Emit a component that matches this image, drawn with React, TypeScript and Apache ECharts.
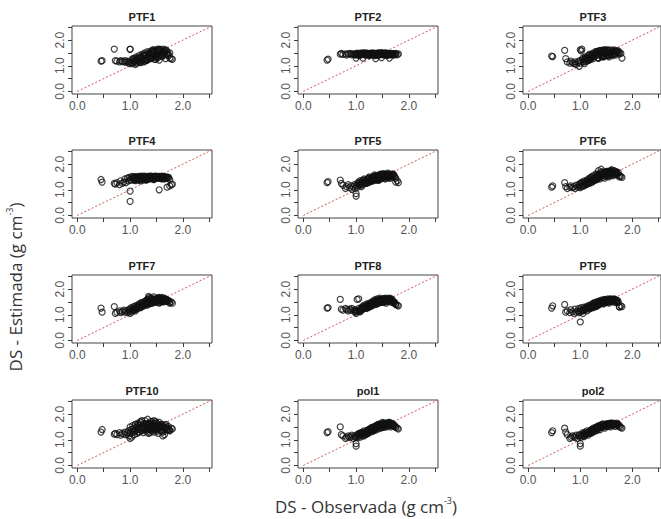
import React, { useEffect, useRef } from "react";
import * as echarts from "echarts";

const observed = [
  0.45, 0.47, 0.70, 0.72, 0.75, 0.80, 0.82, 0.85,
  0.88, 0.90, 0.92, 0.95, 0.97, 0.98, 1.00, 1.00,
  1.00, 1.02, 1.03, 1.05, 1.05, 1.07, 1.08, 1.10,
  1.10, 1.12, 1.13, 1.15, 1.15, 1.17, 1.18, 1.20,
  1.20, 1.22, 1.23, 1.25, 1.25, 1.27, 1.28, 1.30,
  1.30, 1.32, 1.33, 1.35, 1.35, 1.37, 1.38, 1.40,
  1.40, 1.42, 1.43, 1.45, 1.45, 1.47, 1.48, 1.50,
  1.50, 1.52, 1.53, 1.55, 1.55, 1.57, 1.58, 1.60,
  1.60, 1.62, 1.63, 1.65, 1.65, 1.67, 1.68, 1.70,
  1.30, 1.35, 1.40, 1.45, 1.50, 1.55, 1.60, 1.25,
  1.20, 1.38, 1.42, 1.48, 1.52, 1.58, 1.62, 1.33,
  1.70, 1.72, 1.73, 1.75, 1.75, 1.78, 1.80, 1.45,
  1.05, 1.10, 1.15, 1.20, 1.25, 1.30, 1.35, 1.40,
  1.45, 1.50, 1.55, 1.60, 1.65, 1.70, 1.12, 1.22,
  1.32, 1.42, 1.52, 1.62, 1.08, 1.18, 1.28, 1.38,
  1.48, 1.58, 1.68, 1.36, 1.46, 1.56, 1.26, 1.16,
];

const ptf1 = [
  1.18, 1.20, 1.65, 1.20, 1.18, 1.15, 1.20, 1.17,
  1.15, 1.20, 1.14, 1.18, 1.10, 1.16, 1.65, 1.08,
  1.64, 1.12, 1.20, 1.08, 1.25, 1.15, 1.30, 1.12,
  1.22, 1.35, 1.10, 1.28, 1.18, 1.40, 1.15, 1.25,
  1.32, 1.20, 1.45, 1.28, 1.38, 1.18, 1.50, 1.30,
  1.42, 1.22, 1.55, 1.35, 1.48, 1.28, 1.40, 1.58,
  1.30, 1.50, 1.62, 1.38, 1.55, 1.25, 1.45, 1.60,
  1.35, 1.65, 1.50, 1.22, 1.58, 1.42, 1.62, 1.48,
  1.55, 1.38, 1.65, 1.50, 1.60, 1.28, 1.62, 1.45,
  1.25, 1.45, 1.35, 1.50, 1.45, 1.55, 1.52, 1.38,
  1.15, 1.32, 1.48, 1.40, 1.30, 1.45, 1.40, 1.25,
  1.55, 1.48, 1.40, 1.30, 1.50, 1.28, 1.25, 1.62,
  1.28, 1.05, 1.32, 1.12, 1.42, 1.20, 1.50, 1.28,
  1.58, 1.32, 1.62, 1.40, 1.55, 1.42, 1.20, 1.35,
  1.22, 1.55, 1.42, 1.52, 1.18, 1.30, 1.40, 1.48,
  1.25, 1.38, 1.58, 1.45, 1.35, 1.65, 1.15, 1.25,
];
const ptf2 = [
  1.22, 1.26, 1.45, 1.48, 1.44, 1.46, 1.42, 1.47,
  1.45, 1.48, 1.43, 1.46, 1.44, 1.42, 1.47, 1.30,
  1.45, 1.49, 1.42, 1.46, 1.40, 1.48, 1.44, 1.50,
  1.43, 1.47, 1.30, 1.45, 1.49, 1.41, 1.46, 1.44,
  1.50, 1.42, 1.47, 1.44, 1.40, 1.48, 1.45, 1.43,
  1.47, 1.44, 1.50, 1.41, 1.46, 1.28, 1.48, 1.43,
  1.45, 1.49, 1.42, 1.47, 1.44, 1.50, 1.32, 1.46,
  1.43, 1.48, 1.45, 1.41, 1.49, 1.44, 1.47, 1.42,
  1.46, 1.43, 1.30, 1.48, 1.45, 1.42, 1.47, 1.44,
  1.48, 1.40, 1.46, 1.43, 1.50, 1.45, 1.41, 1.47,
  1.44, 1.47, 1.42, 1.49, 1.45, 1.43, 1.48, 1.46,
  1.45, 1.42, 1.47, 1.44, 1.48, 1.43, 1.46, 1.45,
  1.47, 1.44, 1.50, 1.46, 1.43, 1.48, 1.45, 1.41,
  1.49, 1.46, 1.42, 1.48, 1.45, 1.43, 1.47, 1.44,
  1.45, 1.50, 1.44, 1.47, 1.42, 1.46, 1.49, 1.43,
  1.46, 1.48, 1.44, 1.47, 1.45, 1.50, 1.43, 1.48,
];
const ptf3 = [
  1.38, 1.36, 1.60, 1.28, 1.15, 1.10, 1.18, 1.12,
  1.08, 1.15, 1.05, 1.12, 1.18, 0.98, 1.10, 1.62,
  1.20, 1.58, 1.65, 1.15, 1.30, 1.22, 1.08, 1.28,
  1.35, 1.18, 1.25, 1.40, 1.30, 1.22, 1.45, 1.32,
  1.25, 1.42, 1.35, 1.50, 1.28, 1.45, 1.38, 1.55,
  1.40, 1.52, 1.32, 1.48, 1.58, 1.42, 1.55, 1.38,
  1.60, 1.45, 1.52, 1.35, 1.58, 1.48, 1.62, 1.42,
  1.55, 1.40, 1.60, 1.48, 1.52, 1.62, 1.45, 1.58,
  1.50, 1.60, 1.45, 1.55, 1.62, 1.48, 1.58, 1.52,
  1.45, 1.30, 1.50, 1.40, 1.55, 1.35, 1.48, 1.38,
  1.32, 1.55, 1.38, 1.60, 1.42, 1.50, 1.40, 1.45,
  1.55, 1.50, 1.58, 1.52, 1.45, 1.48, 1.30, 1.62,
  1.25, 1.32, 1.20, 1.42, 1.35, 1.55, 1.30, 1.48,
  1.38, 1.55, 1.42, 1.52, 1.45, 1.58, 1.28, 1.40,
  1.50, 1.35, 1.62, 1.45, 1.15, 1.35, 1.45, 1.60,
  1.55, 1.48, 1.42, 1.52, 1.60, 1.42, 1.38, 1.25,
];
const ptf4 = [
  1.40, 1.30, 1.25, 1.22, 1.28, 1.20, 1.35, 1.25,
  1.30, 1.42, 1.28, 1.45, 1.35, 1.48, 0.55, 0.95,
  1.40, 1.50, 1.38, 1.45, 1.52, 1.42, 1.48, 1.36,
  1.50, 1.44, 1.40, 1.52, 1.46, 1.38, 1.50, 1.45,
  1.42, 1.52, 1.47, 1.40, 1.50, 1.44, 1.53, 1.46,
  1.48, 1.40, 1.52, 1.45, 1.50, 1.42, 1.54, 1.47,
  1.44, 1.50, 1.46, 1.52, 1.40, 1.48, 1.53, 1.45,
  1.50, 1.46, 1.52, 1.00, 1.44, 1.50, 1.47, 1.53,
  1.48, 1.52, 1.45, 1.50, 1.42, 1.49, 1.46, 1.10,
  1.38, 1.46, 1.50, 1.44, 1.48, 1.52, 1.45, 1.40,
  1.35, 1.48, 1.52, 1.46, 1.50, 1.44, 1.50, 1.42,
  1.50, 1.45, 1.48, 1.15, 1.40, 1.20, 1.22, 1.48,
  1.45, 1.50, 1.42, 1.48, 1.52, 1.40, 1.46, 1.50,
  1.44, 1.52, 1.48, 1.42, 1.50, 1.46, 1.40, 1.53,
  1.47, 1.42, 1.50, 1.45, 1.38, 1.52, 1.44, 1.48,
  1.52, 1.46, 1.44, 1.50, 1.42, 1.48, 1.45, 1.40,
];
const ptf5 = [
  1.28, 1.32, 1.38, 1.25, 1.18, 1.05, 1.12, 1.20,
  1.08, 1.15, 1.02, 1.12, 1.20, 1.05, 0.75, 0.85,
  1.15, 1.25, 1.10, 1.30, 1.18, 1.35, 1.22, 1.12,
  1.28, 1.38, 1.20, 1.32, 1.42, 1.25, 1.35, 1.30,
  1.40, 1.28, 1.45, 1.35, 1.50, 1.32, 1.42, 1.38,
  1.48, 1.35, 1.52, 1.40, 1.58, 1.45, 1.38, 1.50,
  1.42, 1.55, 1.48, 1.60, 1.40, 1.52, 1.62, 1.45,
  1.58, 1.48, 1.62, 1.52, 1.42, 1.60, 1.55, 1.65,
  1.50, 1.62, 1.55, 1.45, 1.60, 1.52, 1.58, 1.62,
  1.35, 1.40, 1.55, 1.45, 1.50, 1.58, 1.48, 1.30,
  1.25, 1.45, 1.38, 1.52, 1.62, 1.50, 1.45, 1.40,
  1.58, 1.55, 1.50, 1.30, 1.45, 1.35, 1.28, 1.55,
  1.25, 1.18, 1.38, 1.28, 1.45, 1.38, 1.52, 1.40,
  1.58, 1.45, 1.52, 1.60, 1.50, 1.55, 1.30, 1.42,
  1.48, 1.38, 1.60, 1.52, 1.22, 1.30, 1.42, 1.55,
  1.45, 1.52, 1.60, 1.48, 1.55, 1.45, 1.38, 1.28,
];
const ptf6 = [
  1.10, 1.15, 1.28, 1.12, 1.05, 1.10, 1.15, 1.08,
  1.12, 1.05, 1.18, 1.10, 1.20, 1.15, 1.08, 1.25,
  1.22, 1.12, 1.30, 1.18, 1.28, 1.15, 1.35, 1.25,
  1.32, 1.20, 1.38, 1.28, 1.42, 1.30, 1.25, 1.45,
  1.35, 1.50, 1.30, 1.42, 1.55, 1.38, 1.48, 1.40,
  1.52, 1.40, 1.60, 1.45, 1.75, 1.50, 1.42, 1.80,
  1.55, 1.62, 1.48, 1.70, 1.58, 1.45, 1.65, 1.52,
  1.60, 1.72, 1.55, 1.68, 1.50, 1.65, 1.75, 1.58,
  1.62, 1.70, 1.55, 1.75, 1.65, 1.60, 1.72, 1.58,
  1.40, 1.48, 1.55, 1.62, 1.58, 1.70, 1.65, 1.35,
  1.30, 1.52, 1.60, 1.65, 1.68, 1.62, 1.70, 1.45,
  1.65, 1.60, 1.68, 1.55, 1.50, 1.52, 1.48, 1.62,
  1.15, 1.28, 1.35, 1.48, 1.35, 1.62, 1.55, 1.70,
  1.58, 1.72, 1.60, 1.78, 1.62, 1.68, 1.22, 1.40,
  1.55, 1.68, 1.70, 1.75, 1.18, 1.35, 1.48, 1.58,
  1.62, 1.72, 1.65, 1.60, 1.65, 1.55, 1.42, 1.30,
];
const ptf7 = [
  1.26, 1.10, 1.32, 1.05, 1.10, 1.15, 1.08, 1.12,
  1.18, 1.10, 1.15, 1.08, 1.20, 1.12, 1.05, 1.22,
  1.15, 1.28, 1.10, 1.25, 1.18, 1.32, 1.20, 1.28,
  1.35, 1.22, 1.30, 1.40, 1.25, 1.38, 1.32, 1.45,
  1.30, 1.48, 1.38, 1.42, 1.35, 1.50, 1.40, 1.55,
  1.45, 1.38, 1.60, 1.48, 1.72, 1.42, 1.55, 1.50,
  1.65, 1.45, 1.58, 1.70, 1.50, 1.62, 1.48, 1.55,
  1.60, 1.52, 1.65, 1.45, 1.58, 1.62, 1.50, 1.68,
  1.55, 1.62, 1.50, 1.65, 1.58, 1.52, 1.60, 1.55,
  1.40, 1.52, 1.45, 1.60, 1.55, 1.48, 1.62, 1.35,
  1.28, 1.45, 1.55, 1.50, 1.62, 1.58, 1.52, 1.42,
  1.58, 1.52, 1.55, 1.48, 1.45, 1.50, 1.45, 1.58,
  1.22, 1.15, 1.35, 1.30, 1.45, 1.55, 1.62, 1.52,
  1.60, 1.55, 1.68, 1.52, 1.62, 1.58, 1.30, 1.42,
  1.50, 1.58, 1.65, 1.55, 1.18, 1.35, 1.48, 1.62,
  1.52, 1.60, 1.55, 1.68, 1.58, 1.62, 1.40, 1.28,
];
const ptf8 = [
  1.26, 1.28, 1.60, 1.22, 1.18, 1.25, 1.20, 1.15,
  1.22, 1.18, 1.25, 1.15, 1.20, 1.12, 1.10, 1.18,
  1.05, 1.60, 1.15, 1.62, 1.25, 1.12, 1.20, 1.28,
  1.18, 1.32, 1.22, 1.28, 1.38, 1.25, 1.35, 1.30,
  1.42, 1.28, 1.38, 1.32, 1.45, 1.40, 1.35, 1.50,
  1.38, 1.52, 1.45, 1.40, 1.58, 1.48, 1.55, 1.42,
  1.62, 1.50, 1.45, 1.58, 1.65, 1.52, 1.60, 1.48,
  1.55, 1.62, 1.50, 1.65, 1.58, 1.45, 1.62, 1.55,
  1.60, 1.52, 1.58, 1.64, 1.55, 1.48, 1.60, 1.50,
  1.35, 1.45, 1.50, 1.55, 1.60, 1.52, 1.58, 1.30,
  1.25, 1.42, 1.55, 1.48, 1.62, 1.58, 1.65, 1.40,
  1.52, 1.45, 1.48, 1.40, 1.42, 1.38, 1.35, 1.58,
  1.15, 1.25, 1.32, 1.28, 1.40, 1.45, 1.52, 1.55,
  1.50, 1.60, 1.55, 1.62, 1.58, 1.52, 1.22, 1.35,
  1.45, 1.52, 1.60, 1.55, 1.12, 1.32, 1.38, 1.58,
  1.48, 1.62, 1.55, 1.45, 1.60, 1.50, 1.42, 1.28,
];
const ptf9 = [
  1.26, 1.35, 1.40, 1.10, 1.15, 1.08, 1.20, 1.12,
  1.05, 1.22, 1.10, 1.15, 1.25, 1.08, 0.72, 1.20,
  1.12, 1.28, 1.15, 1.05, 1.22, 1.30, 1.18, 1.25,
  1.20, 1.32, 1.15, 1.28, 1.35, 1.22, 1.38, 1.30,
  1.25, 1.40, 1.32, 1.45, 1.28, 1.38, 1.48, 1.35,
  1.42, 1.50, 1.35, 1.45, 1.52, 1.40, 1.55, 1.48,
  1.45, 1.58, 1.50, 1.42, 1.55, 1.60, 1.48, 1.52,
  1.58, 1.50, 1.62, 1.55, 1.45, 1.60, 1.52, 1.58,
  1.55, 1.60, 1.50, 1.62, 1.55, 1.48, 1.58, 1.52,
  1.35, 1.42, 1.48, 1.52, 1.58, 1.55, 1.60, 1.30,
  1.28, 1.48, 1.45, 1.55, 1.50, 1.62, 1.56, 1.40,
  1.50, 1.55, 1.48, 1.32, 1.30, 1.35, 1.32, 1.45,
  1.15, 1.22, 1.30, 1.35, 1.42, 1.32, 1.50, 1.45,
  1.55, 1.48, 1.58, 1.52, 1.60, 1.55, 1.25, 1.38,
  1.42, 1.50, 1.55, 1.60, 1.20, 1.30, 1.40, 1.52,
  1.58, 1.52, 1.58, 1.45, 1.55, 1.50, 1.35, 1.28,
];
const ptf10 = [
  1.30, 1.40, 1.22, 1.25, 1.20, 1.28, 1.18, 1.25,
  1.22, 1.30, 1.20, 1.28, 1.35, 1.15, 1.05, 1.50,
  1.25, 1.40, 1.10, 1.55, 1.30, 1.45, 1.20, 1.60,
  1.35, 1.50, 1.25, 1.65, 1.40, 1.30, 1.55, 1.45,
  1.70, 1.35, 1.50, 1.28, 1.60, 1.42, 1.75, 1.38,
  1.55, 1.30, 1.80, 1.45, 1.65, 1.40, 1.52, 1.72,
  1.35, 1.60, 1.45, 1.75, 1.30, 1.55, 1.48, 1.65,
  1.40, 1.58, 1.25, 1.50, 1.68, 1.35, 1.55, 1.45,
  1.60, 1.15, 1.50, 1.42, 1.20, 1.55, 1.48, 1.38,
  1.50, 1.62, 1.40, 1.55, 1.32, 1.45, 1.58, 1.42,
  1.38, 1.28, 1.52, 1.65, 1.42, 1.60, 1.35, 1.48,
  1.45, 1.52, 1.40, 1.38, 1.35, 1.45, 1.42, 1.50,
  1.40, 1.60, 1.30, 1.70, 1.50, 1.62, 1.25, 1.55,
  1.65, 1.40, 1.55, 1.35, 1.48, 1.42, 1.45, 1.75,
  1.58, 1.68, 1.45, 1.30, 1.35, 1.55, 1.62, 1.50,
  1.72, 1.50, 1.60, 1.45, 1.38, 1.52, 1.42, 1.60,
];
const pol1 = [
  1.28, 1.32, 1.50, 1.20, 1.15, 1.05, 1.10, 1.15,
  1.08, 1.12, 1.18, 1.05, 1.15, 1.10, 0.75, 0.85,
  1.12, 1.20, 1.08, 1.25, 1.15, 1.22, 1.10, 1.28,
  1.18, 1.30, 1.22, 1.15, 1.35, 1.25, 1.20, 1.32,
  1.28, 1.38, 1.25, 1.42, 1.30, 1.35, 1.45, 1.32,
  1.40, 1.48, 1.35, 1.52, 1.42, 1.38, 1.55, 1.45,
  1.50, 1.42, 1.58, 1.48, 1.62, 1.45, 1.55, 1.68,
  1.52, 1.60, 1.48, 1.65, 1.55, 1.62, 1.50, 1.58,
  1.62, 1.55, 1.68, 1.50, 1.60, 1.65, 1.55, 1.62,
  1.38, 1.42, 1.50, 1.55, 1.48, 1.58, 1.62, 1.30,
  1.22, 1.45, 1.52, 1.58, 1.65, 1.55, 1.60, 1.40,
  1.58, 1.52, 1.55, 1.48, 1.50, 1.45, 1.42, 1.60,
  1.20, 1.28, 1.25, 1.35, 1.40, 1.48, 1.45, 1.58,
  1.55, 1.62, 1.58, 1.65, 1.60, 1.55, 1.15, 1.38,
  1.48, 1.60, 1.62, 1.68, 1.25, 1.30, 1.42, 1.52,
  1.55, 1.65, 1.60, 1.50, 1.58, 1.62, 1.35, 1.28,
];
const pol2 = [
  1.28, 1.35, 1.45, 1.30, 1.20, 1.05, 1.10, 1.15,
  1.12, 1.08, 1.18, 1.05, 1.15, 1.20, 0.75, 0.85,
  1.15, 1.10, 1.22, 1.18, 1.28, 1.12, 1.25, 1.20,
  1.30, 1.22, 1.35, 1.25, 1.18, 1.32, 1.28, 1.38,
  1.32, 1.40, 1.28, 1.45, 1.35, 1.42, 1.38, 1.48,
  1.42, 1.50, 1.38, 1.55, 1.45, 1.52, 1.40, 1.58,
  1.48, 1.55, 1.62, 1.50, 1.58, 1.45, 1.60, 1.52,
  1.58, 1.62, 1.52, 1.60, 1.55, 1.65, 1.50, 1.62,
  1.60, 1.55, 1.65, 1.58, 1.62, 1.52, 1.60, 1.65,
  1.35, 1.45, 1.50, 1.55, 1.58, 1.60, 1.62, 1.32,
  1.25, 1.48, 1.52, 1.58, 1.60, 1.62, 1.58, 1.42,
  1.62, 1.58, 1.60, 1.55, 1.50, 1.48, 1.45, 1.55,
  1.18, 1.25, 1.30, 1.38, 1.42, 1.48, 1.52, 1.55,
  1.58, 1.62, 1.55, 1.65, 1.60, 1.58, 1.22, 1.35,
  1.45, 1.55, 1.60, 1.62, 1.15, 1.28, 1.40, 1.52,
  1.55, 1.62, 1.60, 1.50, 1.58, 1.62, 1.35, 1.25,
];

const panelNames = ["PTF1", "PTF2", "PTF3", "PTF4", "PTF5", "PTF6", "PTF7", "PTF8", "PTF9", "PTF10", "pol1", "pol2"];
const estimates = [ptf1, ptf2, ptf3, ptf4, ptf5, ptf6, ptf7, ptf8, ptf9, ptf10, pol1, pol2];
const tickValues = [0, 0.5, 1, 1.5, 2, 2.5];
const labelValues = [0, 1, 2];
const diagonal = [0, 2.55];

const colLefts = [72, 298, 523];
const rowTops = [26, 150, 275, 400];
const boxW = 140;
const boxH = 68;
const axisMin = -0.1;
const axisMax = 2.55;

export default function App() {
  const ref = useRef<HTMLDivElement>(null);
  useEffect(() => {
    if (!ref.current) return;
    const chart = echarts.init(ref.current, null, { renderer: "svg" });
    const grids: any[] = [];
    const xAxes: any[] = [];
    const yAxes: any[] = [];
    const series: any[] = [];
    const graphics: any[] = [];
    const tickColor = "#3a3a3a";
    const labelStyle = {
      customValues: labelValues, margin: 6, fontSize: 12, color: "#555",
      fontFamily: "Liberation Sans, Arial, sans-serif",
      formatter: (v: number) => v.toFixed(1),
    };
    panelNames.forEach((name, i) => {
      const col = i % 3;
      const row = Math.floor(i / 3);
      const left = colLefts[col];
      const top = rowTops[row];
      grids.push({
        left, top, width: boxW, height: boxH,
        show: true, borderColor: "#444", borderWidth: 1, backgroundColor: "transparent",
      });
      xAxes.push({
        type: "value", gridIndex: i, min: axisMin, max: axisMax,
        axisLine: { show: false, onZero: false },
        splitLine: { show: false },
        axisTick: { show: true, length: 4, customValues: tickValues, lineStyle: { color: tickColor } },
        axisLabel: { ...labelStyle },
      });
      yAxes.push({
        type: "value", gridIndex: i, min: axisMin, max: axisMax,
        axisLine: { show: false, onZero: false },
        splitLine: { show: false },
        axisTick: { show: true, length: 4, customValues: tickValues, lineStyle: { color: tickColor } },
        axisLabel: { ...labelStyle, rotate: 90 },
      });
      series.push({
        type: "line", xAxisIndex: i, yAxisIndex: i,
        data: diagonal.map((d) => [d, d]),
        symbol: "none", z: 1,
        lineStyle: { color: "#c75b5b", width: 1, type: [2, 2] },
        silent: true,
      });
      series.push({
        type: "scatter", xAxisIndex: i, yAxisIndex: i,
        data: observed.map((o, k) => [o, estimates[i][k]]),
        symbol: "circle", symbolSize: 6, z: 2,
        itemStyle: { color: "transparent", borderColor: "#111", borderWidth: 1.2 },
      });
      graphics.push({
        type: "text", x: left + boxW / 2, y: top - 9,
        style: {
          text: name, align: "center", verticalAlign: "middle",
          font: "bold 11px 'Liberation Sans', Arial, sans-serif", fill: "#222",
        },
      });
    });
    const titleRich = {
      a: { fontSize: 17, fontFamily: "'Open Sans', sans-serif", fill: "#333", lineHeight: 20 },
      s: { fontSize: 9, fontFamily: "'Open Sans', sans-serif", fill: "#333", verticalAlign: "top", lineHeight: 20 },
    };
    graphics.push({
      type: "text", x: 366, y: 506,
      style: {
        text: "{a|DS - Observada (g cm}{s|-3}{a|)}", align: "center", verticalAlign: "middle",
        rich: titleRich,
      },
    });
    graphics.push({
      type: "text", x: 15, y: 287, rotation: Math.PI / 2,
      style: {
        text: "{a|DS - Estimada (g cm}{s|-3}{a|)}", align: "center", verticalAlign: "middle",
        rich: titleRich,
      },
    });
    chart.setOption({
      animation: false,
      backgroundColor: "#fff",
      grid: grids,
      xAxis: xAxes,
      yAxis: yAxes,
      series,
      graphic: graphics,
    });
    return () => chart.dispose();
  }, []);
  return <div ref={ref} style={{ position: "fixed", left: 0, top: 0, width: 661, height: 519 }} />;
}
